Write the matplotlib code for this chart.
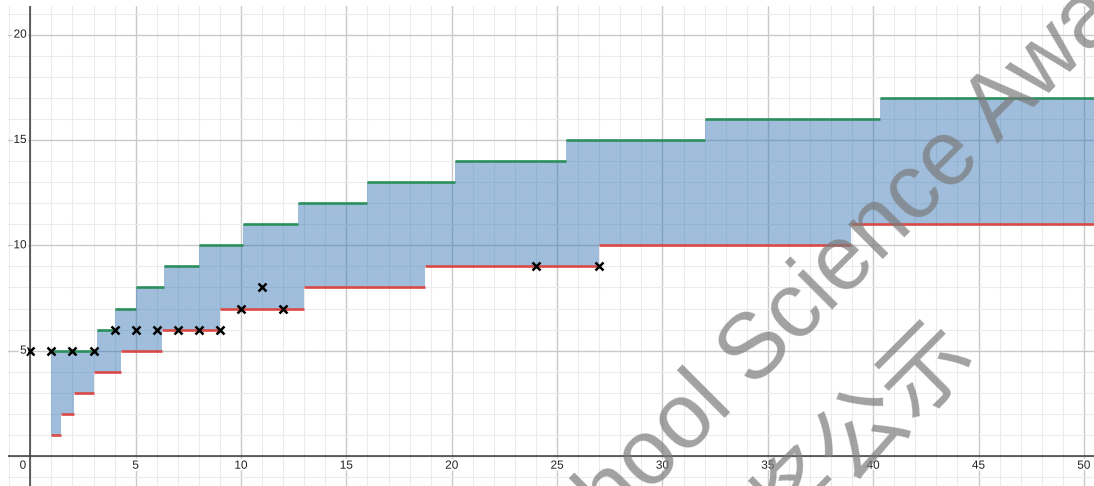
import numpy as np
import matplotlib
matplotlib.use("Agg")
import matplotlib.pyplot as plt
import matplotlib.patheffects as pe
from matplotlib.font_manager import FontProperties

# Lower bound: each value holds from its edge up to the next edge
lower_edges = [1.0, 1.442, 2.08, 3.0, 4.327, 6.24, 9.0, 12.98, 18.72, 27.0, 38.94]
lower_values = [1, 2, 3, 4, 5, 6, 7, 8, 9, 10, 11]

# Upper bound steps
upper_edges = [1.0, 3.17, 4.0, 5.04, 6.35, 8.0, 10.08, 12.7, 16.0, 20.16, 25.4, 32.0, 40.32]
upper_values = [5, 6, 7, 8, 9, 10, 11, 12, 13, 14, 15, 16, 17]

# Observed points
point_x = [0, 1, 2, 3, 4, 5, 6, 7, 8, 9, 10, 11, 12, 24, 27]
point_y = [5, 5, 5, 5, 6, 6, 6, 6, 6, 6, 7, 8, 7, 9, 9]

x_tick_labels = [0, 5, 10, 15, 20, 25, 30, 35, 40, 45, 50]
y_tick_labels = [5, 10, 15, 20]

W, H, DPI = 1094, 486, 100
XMIN, XMAX = -1.058, 50.48
YMIN, YMAX = -1.424, 21.36

fig = plt.figure(figsize=(W / DPI, H / DPI), dpi=DPI, facecolor="white")
ax = fig.add_axes([8 / W, 0, (W - 8) / W, (H - 6) / H])
ax.set_xlim(XMIN, XMAX)
ax.set_ylim(YMIN, YMAX)
ax.set_axis_off()

# Grid: light unit lines, darker lines every 5 units
for v in range(-1, 52):
    major = v % 5 == 0
    ax.axvline(v, color="#c9c9c9" if major else "#ebebeb", lw=1.0 if major else 0.75, zorder=0)
for v in range(-1, 22):
    major = v % 5 == 0
    ax.axhline(v, color="#c9c9c9" if major else "#ebebeb", lw=1.0 if major else 0.75, zorder=0)
ax.axhline(0, color="#3a3a3a", lw=1.1, zorder=1)
ax.axvline(0, color="#3a3a3a", lw=1.1, zorder=1)


def step_at(edges, values, xs):
    idx = np.searchsorted(edges, xs, side="right") - 1
    return np.asarray(values)[np.clip(idx, 0, len(values) - 1)]


xs = np.array(sorted(set(lower_edges) | set(upper_edges) | {XMAX}))
lo = step_at(lower_edges, lower_values, xs)
hi = step_at(upper_edges, upper_values, xs)
ax.fill_between(xs, lo, hi, step="post", color="#2d70b3", alpha=0.45, lw=0, zorder=2)

upper_ends = upper_edges[1:] + [XMAX]
lower_ends = lower_edges[1:] + [XMAX]
ax.hlines(upper_values, upper_edges, upper_ends, colors="#2b8f5c", lw=1.9, zorder=3)
ax.hlines(lower_values, lower_edges, lower_ends, colors="#d94a46", lw=1.9, zorder=3)

ax.plot(point_x, point_y, ls="none", marker="x", ms=5.5, mew=1.8, color="black", zorder=4)

halo = [pe.withStroke(linewidth=3, foreground="white")]
label_kw = dict(fontsize=8.5, color="#222222", family="Liberation Sans", path_effects=halo, zorder=5)
for v in x_tick_labels:
    if v == 0:
        ax.text(-0.35, -0.46, "0", ha="center", va="center", **label_kw)
    else:
        ax.text(v, -0.46, str(v), ha="center", va="center", **label_kw)
for v in y_tick_labels:
    ax.text(-0.17, v, str(v), ha="right", va="center", **label_kw)

# Diagonal watermark
renderer = fig.canvas.get_renderer()
wm_size = 66
em = wm_size * DPI / 72
ang = np.deg2rad(45)
c, s = np.cos(ang), np.sin(ang)

prop1 = FontProperties(family="Liberation Sans", size=wm_size)
w1, _, _ = renderer.get_text_width_height_descent("High Schoo", prop1, ismath=False)
d1 = w1 + 0.1 * em
ax1, ay1 = 727 - d1 * c, 71 - d1 * s
fig.text(ax1 / W, ay1 / H, "High School Science Award", fontproperties=prop1,
         rotation=45, rotation_mode="anchor", ha="left", va="baseline",
         color="#7a7a7a", alpha=0.7, zorder=10)

prop2 = FontProperties(family="Noto Sans CJK SC", size=wm_size)
w2, _, _ = renderer.get_text_width_height_descent("获奖", prop2, ismath=False)
d2 = w2 + 0.5 * em
cx, cy = 856, 58
ax2 = cx - d2 * c + 0.38 * em * s
ay2 = cy - d2 * s - 0.38 * em * c
fig.text(ax2 / W, ay2 / H, "获奖公示", fontproperties=prop2,
         rotation=45, rotation_mode="anchor", ha="left", va="baseline",
         color="#7a7a7a", alpha=0.7, zorder=10)

fig.savefig("out.png", dpi=DPI, facecolor="white")
